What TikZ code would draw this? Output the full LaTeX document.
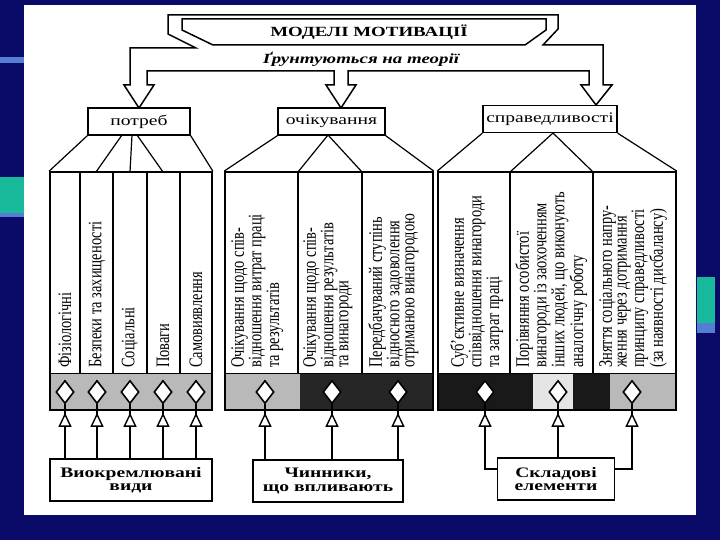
\documentclass[tikz,border=0pt]{standalone}
\usepackage{fontspec}
\setmainfont{Liberation Serif}
\newfontfamily\widefont[FakeStretch=1.35]{Liberation Serif}
\newfontfamily\narrowfont[FakeStretch=0.76]{Liberation Serif}
\usetikzlibrary{shapes.geometric,arrows.meta,decorations.markings}
\definecolor{slideblue}{RGB}{10,10,105}
\definecolor{slideteal}{RGB}{25,185,155}
\definecolor{slidestripe}{RGB}{85,125,210}

\begin{document}
\begin{tikzpicture}[x=1pt,y=-1pt]
    \tikzset{
      hollow/.style={draw,fill=white,line width=1.5pt,line join=miter},
      lvlbox/.style={draw,line width=1.4pt,minimum height=27pt,inner sep=0pt,
        font=\widefont\fontsize{14.5}{16}\selectfont},
      blockbox/.style={draw,line width=1.7pt,minimum height=238pt,inner sep=0pt},
      coltext/.style={rotate=90,anchor=north west,inner sep=0pt,align=left,
        font=\narrowfont\fontsize{19}{14.8}\selectfont},
      onetext/.style={coltext,anchor=west},
      gem/.style={diamond,draw,fill=white,line width=1.6pt,inner sep=0pt,
        minimum width=18pt,minimum height=23pt},
      basebox/.style={draw,line width=1.4pt,minimum height=42pt,align=center,
        font=\widefont\bfseries\fontsize{14.5}{13.5}\selectfont},
      uparrow/.style={line width=1.4pt,postaction={decorate},
        decoration={markings,mark=at position -8.5pt with
          {\arrow{Triangle[fill=white,width=13pt,length=14pt,line width=1.4pt]}}}},
    }
    \useasboundingbox (0,0) rectangle (720,540);
    % slide
    \fill[slideblue] (0,0) rectangle (720,540);
    \fill[slidestripe] (0,57) rectangle (24,63);
    \fill[slideteal] (0,177) rectangle (24,213);
    \fill[slidestripe] (0,213) rectangle (24,217);
    \fill[slideteal] (697,277) rectangle (715,323);
    \fill[slidestripe] (697,323) rectangle (715,333);
    \fill[white] (24,5) rectangle (696,515);
    %
    % title and the hollow pipe
    \draw[hollow] (168,15) -- (558,15) -- (558,29) -- (543,45) -- (603,45)
      -- (603,85) -- (612,85) -- (596,105) -- (581,85) -- (589,85) -- (589,71)
      -- (348,71) -- (348,85) -- (356,85) -- (341,108) -- (326,85) -- (334,85)
      -- (334,71) -- (147,71) -- (147,85) -- (154,85) -- (139,108) -- (124,85)
      -- (130,85) -- (130,48) -- (196,48) -- (168,34) -- cycle;
    \draw[line width=1.5pt,line join=miter] (182,19) -- (546,19) -- (546,30)
      -- (525,45) -- (213,45) -- (182,30) -- cycle;
    \node (title) at (369,32)
      {\widefont\bfseries\fontsize{14}{16}\selectfont МОДЕЛІ МОТИВАЦІЇ};
    \node (basis) at (361,59)
      {\widefont\bfseries\itshape\fontsize{14}{16}\selectfont Ґрунтуються на теорії};
    %
    \node[lvlbox,minimum width=102pt] (needs) at (139,121.5) {потреб};
    \node[lvlbox,minimum width=107pt] (expect) at (331.5,121.5) {очікування};
    \node[lvlbox,minimum width=134pt] (fair) at (550,119) {справедливості};
    %
    % shaded bands
    \fill[gray!55] (50,373) rectangle (212,410);
    \fill[gray!55] (225,373) rectangle (300,410);
    \fill[black!85] (300,373) rectangle (433,410);
    \fill[black!90] (438,373) rectangle (533,410);
    \fill[gray!20] (533,373) rectangle (573,410);
    \fill[black!90] (573,373) rectangle (610,410);
    \fill[gray!55] (610,373) rectangle (676,410);
    %
    \node[blockbox,minimum width=162pt] (needsblk) at (131,291) {};
    \node[blockbox,minimum width=208pt] (expblk) at (329,291) {};
    \node[blockbox,minimum width=238pt] (fairblk) at (557,291) {};
    \foreach \x in {80,113,147,180,298,362,510,593}
      \draw[line width=1.5pt] (\x,172) -- (\x,373);
    \draw[line width=1pt] (50,373) -- (212,373) (225,373) -- (433,373)
      (438,373) -- (676,373);
    %
    % fans
    \draw[line width=1.2pt] (needs.south west) -- (needsblk.north west)
      (needs.south east) -- (needsblk.north east)
      (122,135) -- (96,172) (132,135) -- (130,172) (137,135) -- (163,172);
    \draw[line width=1.2pt] (expect.south west) -- (expblk.north west)
      (expect.south east) -- (expblk.north east)
      (298,172) -- (328,135) -- (362,172);
    \draw[line width=1.2pt] (fair.south west) -- (fairblk.north west)
      (fair.south east) -- (fairblk.north east)
      (510,172) -- (553,133) -- (593,172);
    %
    \node[onetext] (n1) at (65,368) {Фізіологічні};
    \node[onetext] (n2) at (97,368) {Безпеки та захищеності};
    \node[onetext] (n3) at (130,368) {Соціальні};
    \node[onetext] (n4) at (163,368) {Поваги};
    \node[onetext] (n5) at (196,368) {Самовиявлення};
    %
    \node[coltext] (e1) at (231,368)
      {Очікування щодо спів-\\відношення витрат праці\\та результатів};
    \node[coltext] (e2) at (303,368)
      {Очікування щодо спів-\\відношення результатів\\та винагороди};
    \node[coltext] (e3) at (368,368)
      {Передбачуваний ступінь\\відносного задоволення\\отриманою винагородою};
    %
    \node[coltext] (f1) at (450,368)
      {Суб’єктивне визначення\\співвідношення винагороди\\та затрат праці};
    \node[coltext] (f2) at (515,368)
      {Порівняння особистої\\винагороди із заохоченням\\інших людей, що виконують\\аналогічну роботу};
    \node[coltext] (f3) at (599,368)
      {Зняття соціального напру-\\ження через дотримання\\принципу справедливості\\(за наявності дисбалансу)};
    %
    \foreach \n/\x in {1/65,2/97,3/130,4/163,5/196,6/265,7/332,8/398,9/485,10/558,11/632}
      \node[gem] (d\n) at (\x,392) {};
    %
    \node[basebox,minimum width=162pt] (kinds) at (131,480) {Виокремлювані\\види};
    \node[basebox,minimum width=150pt] (factors) at (328,481) {Чинники,\\що впливають};
    \node[basebox,minimum width=117pt] (parts) at (556,479) {Складові\\елементи};
    %
    \foreach \i in {1,...,5}
      \draw[uparrow] (kinds.north -| d\i) -- (d\i.south);
    \foreach \i in {6,7,8}
      \draw[uparrow] (factors.north -| d\i) -- (d\i.south);
    \draw[uparrow] ([yshift=10pt]parts.west) -| (d9.south);
    \draw[uparrow] (parts.north -| d10) -- (d10.south);
    \draw[uparrow] ([yshift=10pt]parts.east) -| (d11.south);
\end{tikzpicture}
\end{document}
